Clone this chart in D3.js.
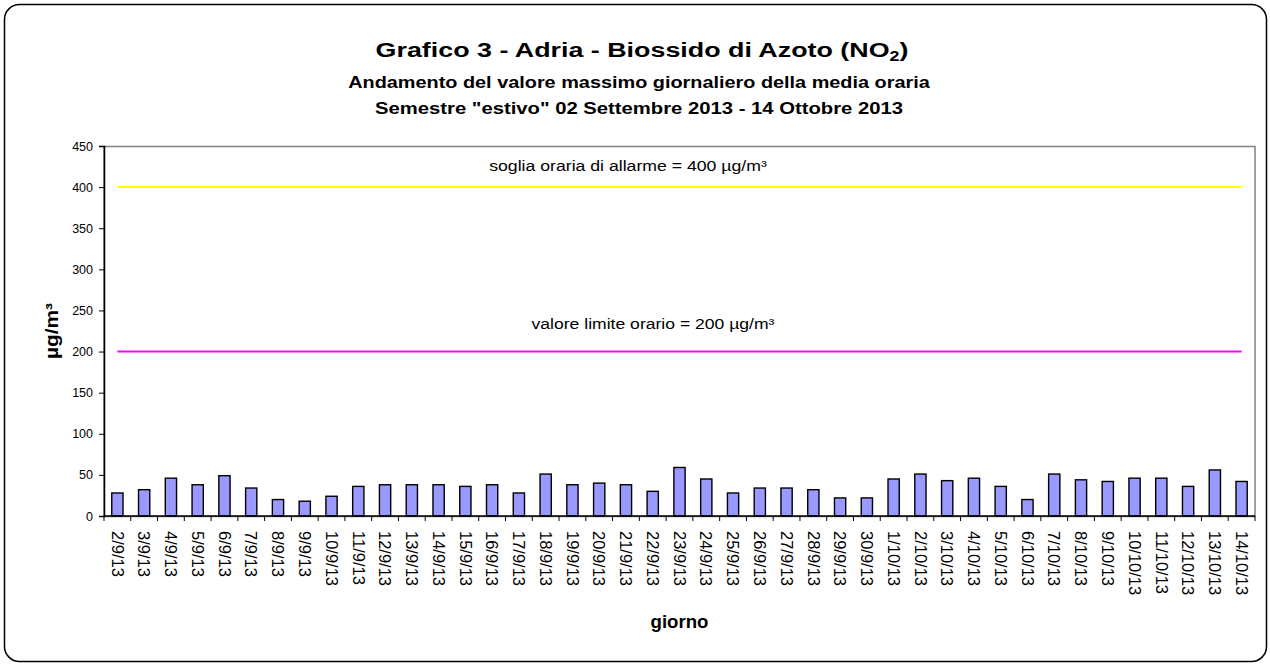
<!DOCTYPE html>
<html>
<head>
<meta charset="utf-8">
<script src="https://cdn.jsdelivr.net/npm/d3@7"></script>
<style>
  body { margin: 0; background: #fff; }
  svg text { font-family: Arial, "Liberation Sans", sans-serif; fill: #000; }
</style>
</head>
<body>
<div id="chart"></div>
<script>
// categories (giorno)
const days = [
  '2/9/13','3/9/13','4/9/13','5/9/13','6/9/13','7/9/13','8/9/13','9/9/13','10/9/13','11/9/13',
  '12/9/13','13/9/13','14/9/13','15/9/13','16/9/13','17/9/13','18/9/13','19/9/13','20/9/13','21/9/13',
  '22/9/13','23/9/13','24/9/13','25/9/13','26/9/13','27/9/13','28/9/13','29/9/13','30/9/13',
  '1/10/13','2/10/13','3/10/13','4/10/13','5/10/13','6/10/13','7/10/13','8/10/13','9/10/13','10/10/13',
  '11/10/13','12/10/13','13/10/13','14/10/13'
];

// max daily hourly mean NO2, µg/m³
const no2Max = [
  28, 32, 46, 38, 49, 34, 20, 18, 24, 36,
  38, 38, 38, 36, 38, 28, 51, 38, 40, 38,
  30, 59, 45, 28, 34, 34, 32, 22, 22,
  45, 51, 43, 46, 36, 20, 51, 44, 42, 46,
  46, 36, 56, 42
];

// reference thresholds
const sogliaAllarme = days.map(() => 400);
const limiteOrario = days.map(() => 200);

const yTicks = [0, 50, 100, 150, 200, 250, 300, 350, 400, 450];

const width = 1270, height = 665;
const plot = { left: 104, right: 1255, top: 146, bottom: 516 };

const svg = d3.select('#chart').append('svg')
  .attr('width', width)
  .attr('height', height);

// stretch a text horizontally (in its own frame) to a given width
const stretch = (sel, target, rot = 0) => {
  const w = sel.node().getComputedTextLength();
  const x0 = +sel.attr('x'), y0 = +sel.attr('y');
  sel.attr('x', 0).attr('y', 0)
    .attr('transform', `translate(${x0},${y0}) rotate(${rot}) scale(${target / w},1)`);
};

// outer frame
svg.append('rect')
  .attr('x', 4.5).attr('y', 4.5)
  .attr('width', 1262).attr('height', 657)
  .attr('rx', 15)
  .attr('fill', '#fff')
  .attr('stroke', '#000')
  .attr('stroke-width', 1.5);

const x = d3.scaleBand()
  .domain(days)
  .range([plot.left, plot.right])
  .paddingInner(0.58)
  .paddingOuter(0.29);

const y = d3.scaleLinear()
  .domain([0, 450])
  .range([plot.bottom, plot.top]);

const cx = d => x(d) + x.bandwidth() / 2;

// plot area border (gray top / right)
svg.append('rect')
  .attr('x', plot.left).attr('y', plot.top + 0.5)
  .attr('width', plot.right - plot.left)
  .attr('height', plot.bottom - plot.top)
  .attr('fill', 'none')
  .attr('stroke', '#808080')
  .attr('stroke-width', 1.5);

// bars
svg.append('g').selectAll('rect')
  .data(no2Max)
  .enter().append('rect')
    .attr('x', (d, i) => x(days[i]))
    .attr('y', d => y(d))
    .attr('width', x.bandwidth())
    .attr('height', d => y(0) - y(d))
    .attr('fill', '#9999FF')
    .attr('stroke', '#000')
    .attr('stroke-width', 1.4);

// threshold lines
const line = d3.line()
  .x((d, i) => cx(days[i]))
  .y(d => y(d));

svg.append('path')
  .datum(sogliaAllarme)
  .attr('d', line)
  .attr('fill', 'none')
  .attr('stroke', '#FFFF00')
  .attr('stroke-width', 2);

svg.append('path')
  .datum(limiteOrario)
  .attr('d', line)
  .attr('fill', 'none')
  .attr('stroke', '#FF00FF')
  .attr('stroke-width', 2);

// y axis
const yAxis = d3.axisLeft(y)
  .tickValues(yTicks)
  .tickSize(5)
  .tickPadding(6)
  .tickFormat(d3.format('d'));

const gy = svg.append('g')
  .attr('transform', `translate(${plot.left},0)`)
  .call(yAxis);
gy.select('.domain').attr('stroke', '#000').attr('stroke-width', 1.5);
gy.selectAll('.tick line').attr('stroke', '#000');
gy.selectAll('.tick text')
  .style('font-size', '12.5px')
  .attr('fill', '#000');

// x axis: ticks at category boundaries
const gx = svg.append('g');
gx.append('line')
  .attr('x1', plot.left).attr('x2', plot.right)
  .attr('y1', y(0)).attr('y2', y(0))
  .attr('stroke', '#000')
  .attr('stroke-width', 1.5);
gx.selectAll('line.tick')
  .data(d3.range(days.length + 1))
  .enter().append('line')
    .attr('class', 'tick')
    .attr('x1', i => plot.left + i * x.step())
    .attr('x2', i => plot.left + i * x.step())
    .attr('y1', y(0))
    .attr('y2', y(0) + 5)
    .attr('stroke', '#000');
gx.selectAll('text')
  .data(days)
  .enter().append('text')
    .attr('transform', d => `translate(${cx(d)},${y(0) + 15}) rotate(90)`)
    .attr('dy', '0.35em')
    .attr('text-anchor', 'start')
    .style('font-size', '16.5px')
    .text(d => d);

// titles
const title = svg.append('text')
  .attr('x', 642).attr('y', 57)
  .attr('text-anchor', 'middle')
  .style('font-size', '21px')
  .style('font-weight', 'bold');
title.append('tspan').text('Grafico 3 - Adria - Biossido di Azoto (NO');
title.append('tspan').attr('dy', 4).style('font-size', '14px').text('2');
title.append('tspan').attr('dy', -4).text(')');
stretch(title, 533);

stretch(svg.append('text')
  .attr('x', 639).attr('y', 88)
  .attr('text-anchor', 'middle')
  .style('font-size', '16.5px')
  .style('font-weight', 'bold')
  .text('Andamento del valore massimo giornaliero della media oraria'), 582);

stretch(svg.append('text')
  .attr('x', 639).attr('y', 114)
  .attr('text-anchor', 'middle')
  .style('font-size', '16.5px')
  .style('font-weight', 'bold')
  .text('Semestre "estivo" 02 Settembre 2013 - 14 Ottobre 2013'), 528);

// line annotations
stretch(svg.append('text')
  .attr('x', 628).attr('y', 171)
  .attr('text-anchor', 'middle')
  .style('font-size', '15px')
  .text('soglia oraria di allarme = 400 µg/m³'), 278);

stretch(svg.append('text')
  .attr('x', 653).attr('y', 329)
  .attr('text-anchor', 'middle')
  .style('font-size', '15px')
  .text('valore limite orario = 200 µg/m³'), 243);

// axis titles
stretch(svg.append('text')
  .attr('x', (plot.left + plot.right) / 2).attr('y', 628)
  .attr('text-anchor', 'middle')
  .style('font-size', '18px')
  .style('font-weight', 'bold')
  .text('giorno'), 58);

stretch(svg.append('text')
  .attr('x', 58).attr('y', (plot.top + plot.bottom) / 2)
  .attr('text-anchor', 'middle')
  .style('font-size', '18px')
  .style('font-weight', 'bold')
  .text('µg/m³'), 56, -90);
</script>
</body>
</html>
